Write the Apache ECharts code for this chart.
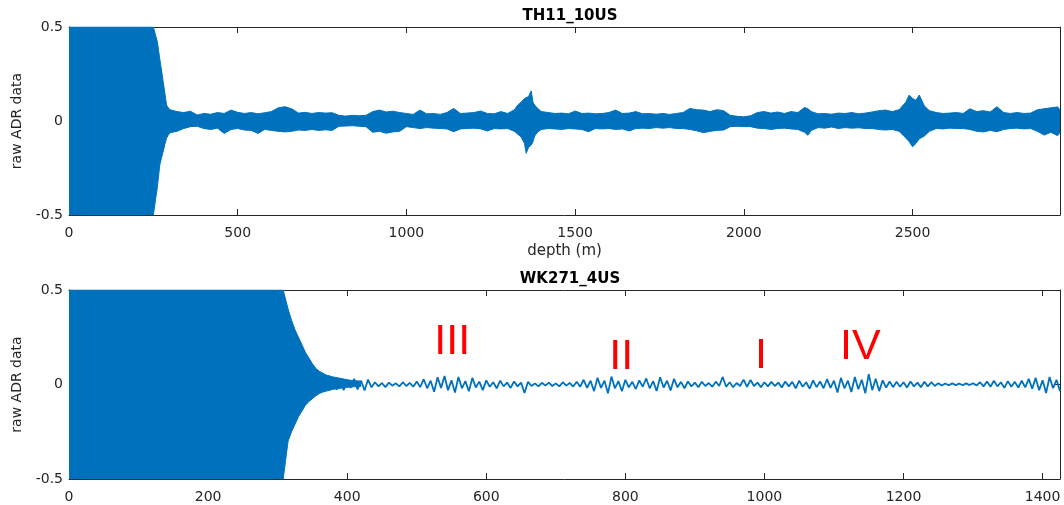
<!DOCTYPE html>
<html><head><meta charset="utf-8">
<script src="https://cdn.jsdelivr.net/npm/echarts@6/dist/echarts.min.js"></script>
<style>html,body{margin:0;padding:0;background:#fff}#c{width:1064px;height:505px}</style>
</head><body><div id="c"></div>
<script>
// ---------- TH11_10US : envelope of raw ADR data (depth m, upper / lower) ----------
const topDepth = [0,250,254,262,269,275,279,284,289,294,300,320,340,360,380,400,420,440,460,480,500,520,540,560,580,600,620,640,660,680,700,720,740,760,780,800,820,840,860,880,900,920,940,960,980,1000,1020,1040,1060,1080,1100,1120,1140,1160,1180,1200,1220,1240,1260,1280,1300,1320,1330,1340,1350,1355,1362,1370,1375,1380,1390,1400,1420,1440,1460,1480,1500,1520,1540,1560,1580,1600,1620,1640,1660,1680,1700,1720,1740,1760,1780,1800,1820,1840,1860,1880,1900,1920,1940,1960,1980,2000,2020,2040,2060,2080,2100,2120,2140,2160,2180,2190,2200,2220,2240,2260,2280,2300,2320,2340,2360,2380,2400,2420,2440,2460,2480,2490,2500,2510,2520,2535,2550,2570,2590,2610,2630,2650,2670,2690,2710,2730,2750,2770,2790,2810,2830,2850,2870,2890,2910,2930,2937];
const topHi = [0.5,0.5,0.5,0.42,0.33,0.26,0.21,0.15,0.085,0.07,0.06,0.05,0.045,0.052,0.032,0.04,0.036,0.045,0.04,0.058,0.046,0.04,0.045,0.038,0.044,0.05,0.07,0.076,0.065,0.042,0.046,0.04,0.045,0.042,0.044,0.03,0.026,0.03,0.028,0.03,0.05,0.058,0.048,0.052,0.045,0.04,0.035,0.058,0.038,0.04,0.035,0.045,0.067,0.04,0.042,0.045,0.053,0.04,0.038,0.05,0.04,0.06,0.085,0.1,0.12,0.11,0.13,0.16,0.1,0.085,0.065,0.05,0.045,0.04,0.042,0.038,0.053,0.04,0.042,0.038,0.04,0.045,0.058,0.04,0.042,0.05,0.038,0.04,0.036,0.04,0.035,0.04,0.045,0.067,0.06,0.058,0.05,0.06,0.055,0.03,0.025,0.022,0.028,0.045,0.05,0.042,0.048,0.04,0.05,0.045,0.072,0.065,0.05,0.038,0.04,0.036,0.042,0.04,0.045,0.038,0.042,0.048,0.055,0.058,0.05,0.06,0.1,0.138,0.12,0.11,0.138,0.08,0.055,0.045,0.04,0.042,0.045,0.04,0.065,0.05,0.055,0.048,0.076,0.045,0.04,0.045,0.04,0.042,0.06,0.065,0.07,0.075,0.06];
const topLo = [-0.5,-0.5,-0.5,-0.35,-0.234,-0.19,-0.163,-0.125,-0.092,-0.075,-0.062,-0.055,-0.04,-0.03,-0.028,-0.04,-0.045,-0.038,-0.066,-0.045,-0.04,-0.048,-0.05,-0.066,-0.045,-0.05,-0.055,-0.058,-0.055,-0.048,-0.05,-0.045,-0.05,-0.047,-0.05,-0.028,-0.027,-0.025,-0.028,-0.03,-0.06,-0.055,-0.065,-0.058,-0.055,-0.03,-0.035,-0.04,-0.035,-0.038,-0.04,-0.042,-0.057,-0.042,-0.04,-0.038,-0.042,-0.053,-0.04,-0.042,-0.04,-0.055,-0.07,-0.085,-0.12,-0.172,-0.14,-0.128,-0.11,-0.08,-0.057,-0.045,-0.04,-0.042,-0.045,-0.04,-0.042,-0.045,-0.057,-0.04,-0.042,-0.04,-0.045,-0.042,-0.053,-0.04,-0.038,-0.04,-0.035,-0.038,-0.035,-0.04,-0.04,-0.045,-0.052,-0.062,-0.055,-0.05,-0.048,-0.03,-0.028,-0.03,-0.03,-0.038,-0.04,-0.045,-0.04,-0.038,-0.042,-0.045,-0.06,-0.076,-0.05,-0.035,-0.038,-0.032,-0.04,-0.035,-0.038,-0.036,-0.04,-0.04,-0.045,-0.048,-0.045,-0.055,-0.09,-0.11,-0.137,-0.12,-0.095,-0.08,-0.055,-0.04,-0.042,-0.038,-0.04,-0.04,-0.045,-0.055,-0.058,-0.05,-0.057,-0.045,-0.04,-0.038,-0.042,-0.04,-0.055,-0.075,-0.06,-0.078,-0.06];

// ---------- WK271_4US : saturated / decaying envelope ----------
const botBandDepth = [0,300,308,315,320,325,330,335,340,345,350,355,360,365,370,380,390,400,410,420];
const botBandHi = [0.5,0.5,0.5,0.4,0.34,0.29,0.25,0.21,0.17,0.14,0.11,0.085,0.07,0.06,0.05,0.04,0.033,0.025,0.02,0.018];
const botBandLo = [-0.5,-0.5,-0.5,-0.3,-0.25,-0.21,-0.17,-0.14,-0.11,-0.09,-0.075,-0.06,-0.048,-0.04,-0.035,-0.025,-0.02,-0.015,-0.012,-0.01];

// ---------- WK271_4US : oscillation peaks every 10 m from 380 m ----------
const botWaveStart = 380, botWaveStep = 10;
const botWaveHi = [0.03,0.022,0.025,0.03,0.02,0.026,0.012,0.008,0.01,0.006,0.012,0.009,0.016,0.028,0.02,0.038,0.045,0.022,0.04,0.018,0.035,0.015,0.022,0.012,0.02,0.01,0.016,0.01,0.014,0.006,0.009,0.01,0.006,0.012,0.008,0.015,0.025,0.02,0.036,0.02,0.042,0.018,0.025,0.014,0.022,0.032,0.018,0.038,0.02,0.03,0.014,0.016,0.01,0.014,0.008,0.015,0.04,0.012,0.008,0.026,0.024,0.01,0.012,0.014,0.01,0.016,0.014,0.02,0.012,0.022,0.016,0.028,0.02,0.035,0.02,0.04,0.025,0.055,0.03,0.022,0.016,0.014,0.012,0.016,0.01,0.014,0.012,0.007,0.005,0.006,0.005,0.006,0.007,0.012,0.016,0.02,0.012,0.018,0.014,0.02,0.03,0.035,0.022,0.04,0.025];
const botWaveLo = [-0.028,-0.03,-0.018,-0.026,-0.032,-0.015,-0.01,-0.014,-0.006,-0.01,-0.008,-0.012,-0.014,-0.02,-0.038,-0.018,-0.03,-0.042,-0.02,-0.036,-0.016,-0.03,-0.012,-0.02,-0.01,-0.018,-0.01,-0.045,-0.008,-0.01,-0.006,-0.008,-0.01,-0.006,-0.011,-0.012,-0.018,-0.035,-0.018,-0.047,-0.02,-0.036,-0.015,-0.024,-0.012,-0.02,-0.034,-0.016,-0.032,-0.015,-0.02,-0.01,-0.015,-0.008,-0.012,-0.008,-0.012,-0.014,-0.008,-0.012,-0.008,-0.014,-0.01,-0.008,-0.016,-0.01,-0.02,-0.012,-0.022,-0.014,-0.02,-0.018,-0.042,-0.02,-0.04,-0.025,-0.046,-0.03,-0.035,-0.016,-0.014,-0.012,-0.016,-0.01,-0.014,-0.01,-0.008,-0.005,-0.004,-0.003,-0.004,-0.003,-0.005,-0.01,-0.012,-0.01,-0.018,-0.012,-0.016,-0.015,-0.022,-0.03,-0.045,-0.02,-0.035];

// ---------- annotations ----------
const annoLabels = ['III','II','I','IV'];
const annoDepth = [551, 794, 995, 1138];
const annoValue = [0.226, 0.147, 0.151, 0.196];

const titles = ['TH11_10US','WK271_4US'];
const yName = 'raw ADR data';
const xName = 'depth (m)';

const BLUE = '#0072BD', AX = '#262626';
const FONT = 'DejaVu Sans';

const zip = (xs, ys) => xs.map((x, i) => [x, ys[i]]);
const wave = [];
botWaveHi.forEach((h, i) => {
  const d = botWaveStart + i * botWaveStep;
  wave.push([d, h]);
  wave.push([d + botWaveStep / 2, botWaveLo[i]]);
});

function xAxis(gi, max, interval, isBottom, name) {
  return {
    type: 'value', gridIndex: gi, min: 0, max: max, interval: interval,
    position: isBottom ? 'bottom' : 'top',
    axisLine: { show: true, onZero: false, lineStyle: { color: AX, width: 1 } },
    axisTick: { show: true, inside: true, length: 6, lineStyle: { color: AX } },
    axisLabel: { show: isBottom, showMaxLabel: false, color: AX, fontFamily: FONT, fontSize: 14, margin: 11,
                 formatter: v => String(v) },
    splitLine: { show: false },
    name: name || '', nameLocation: 'middle', nameGap: 29,
    nameTextStyle: { color: AX, fontFamily: FONT, fontSize: 15 }
  };
}
function yAxis(gi, isLeft) {
  return {
    type: 'value', gridIndex: gi, min: -0.5, max: 0.5, interval: 0.5,
    position: isLeft ? 'left' : 'right',
    axisLine: { show: true, onZero: false, lineStyle: { color: AX, width: 1 } },
    axisTick: { show: true, inside: true, length: 6, lineStyle: { color: AX } },
    axisLabel: { show: isLeft, color: AX, fontFamily: FONT, fontSize: 14, margin: 6, formatter: v => String(v) },
    splitLine: { show: false },
    name: isLeft ? yName : '', nameLocation: 'middle', nameGap: 34, nameRotate: 90,
    nameTextStyle: { color: AX, fontFamily: FONT, fontSize: 14 }
  };
}
// envelope: upper part filled down to (just below) zero, lower part filled up to (just above) zero
function half(xi, yi, data, origin) {
  return {
    type: 'line', xAxisIndex: xi, yAxisIndex: yi, data: data, symbol: 'none',
    lineStyle: { color: BLUE, width: 1 }, itemStyle: { color: BLUE },
    areaStyle: { color: BLUE, opacity: 1, origin: origin }, silent: true, clip: true
  };
}

const chart = echarts.init(document.getElementById('c'), null, { renderer: 'canvas' });
chart.setOption({
  animation: false,
  backgroundColor: '#fff',
  title: [
    { text: titles[0], left: 565, top: 4, textAlign: 'center',
      textStyle: { fontFamily: FONT, fontWeight: 'bold', fontSize: 15, color: '#000' } },
    { text: titles[1], left: 565, top: 267, textAlign: 'center',
      textStyle: { fontFamily: FONT, fontWeight: 'bold', fontSize: 15, color: '#000' } }
  ],
  grid: [
    { left: 69, right: 4, top: 27, height: 188 },
    { left: 69, right: 4, top: 290, height: 189 }
  ],
  xAxis: [
    xAxis(0, 2937, 500, true, xName),
    xAxis(0, 2937, 500, false),
    xAxis(1, 1425, 200, true),
    xAxis(1, 1425, 200, false)
  ],
  yAxis: [ yAxis(0, true), yAxis(0, false), yAxis(1, true), yAxis(1, false) ],
  series: [
    half(0, 0, zip(topDepth, topHi), -0.006),
    half(0, 0, zip(topDepth, topLo), 0.006),
    half(2, 2, zip(botBandDepth, botBandHi), -0.006),
    half(2, 2, zip(botBandDepth, botBandLo), 0.006),
    { type: 'line', xAxisIndex: 2, yAxisIndex: 2, data: wave, symbol: 'none',
      lineStyle: { color: BLUE, width: 1.8 }, silent: true, clip: true },
    { type: 'scatter', xAxisIndex: 2, yAxisIndex: 2, symbolSize: 0, silent: true,
      itemStyle: { opacity: 1 },
      data: annoDepth.map((d, i) => ({ value: [d, annoValue[i]], name: annoLabels[i] })),
      label: { show: true, position: 'inside', formatter: '{b}', color: '#ff0000', opacity: 1,
               fontFamily: 'Liberation Sans', fontSize: 43 } }
  ]
});
</script></body></html>
